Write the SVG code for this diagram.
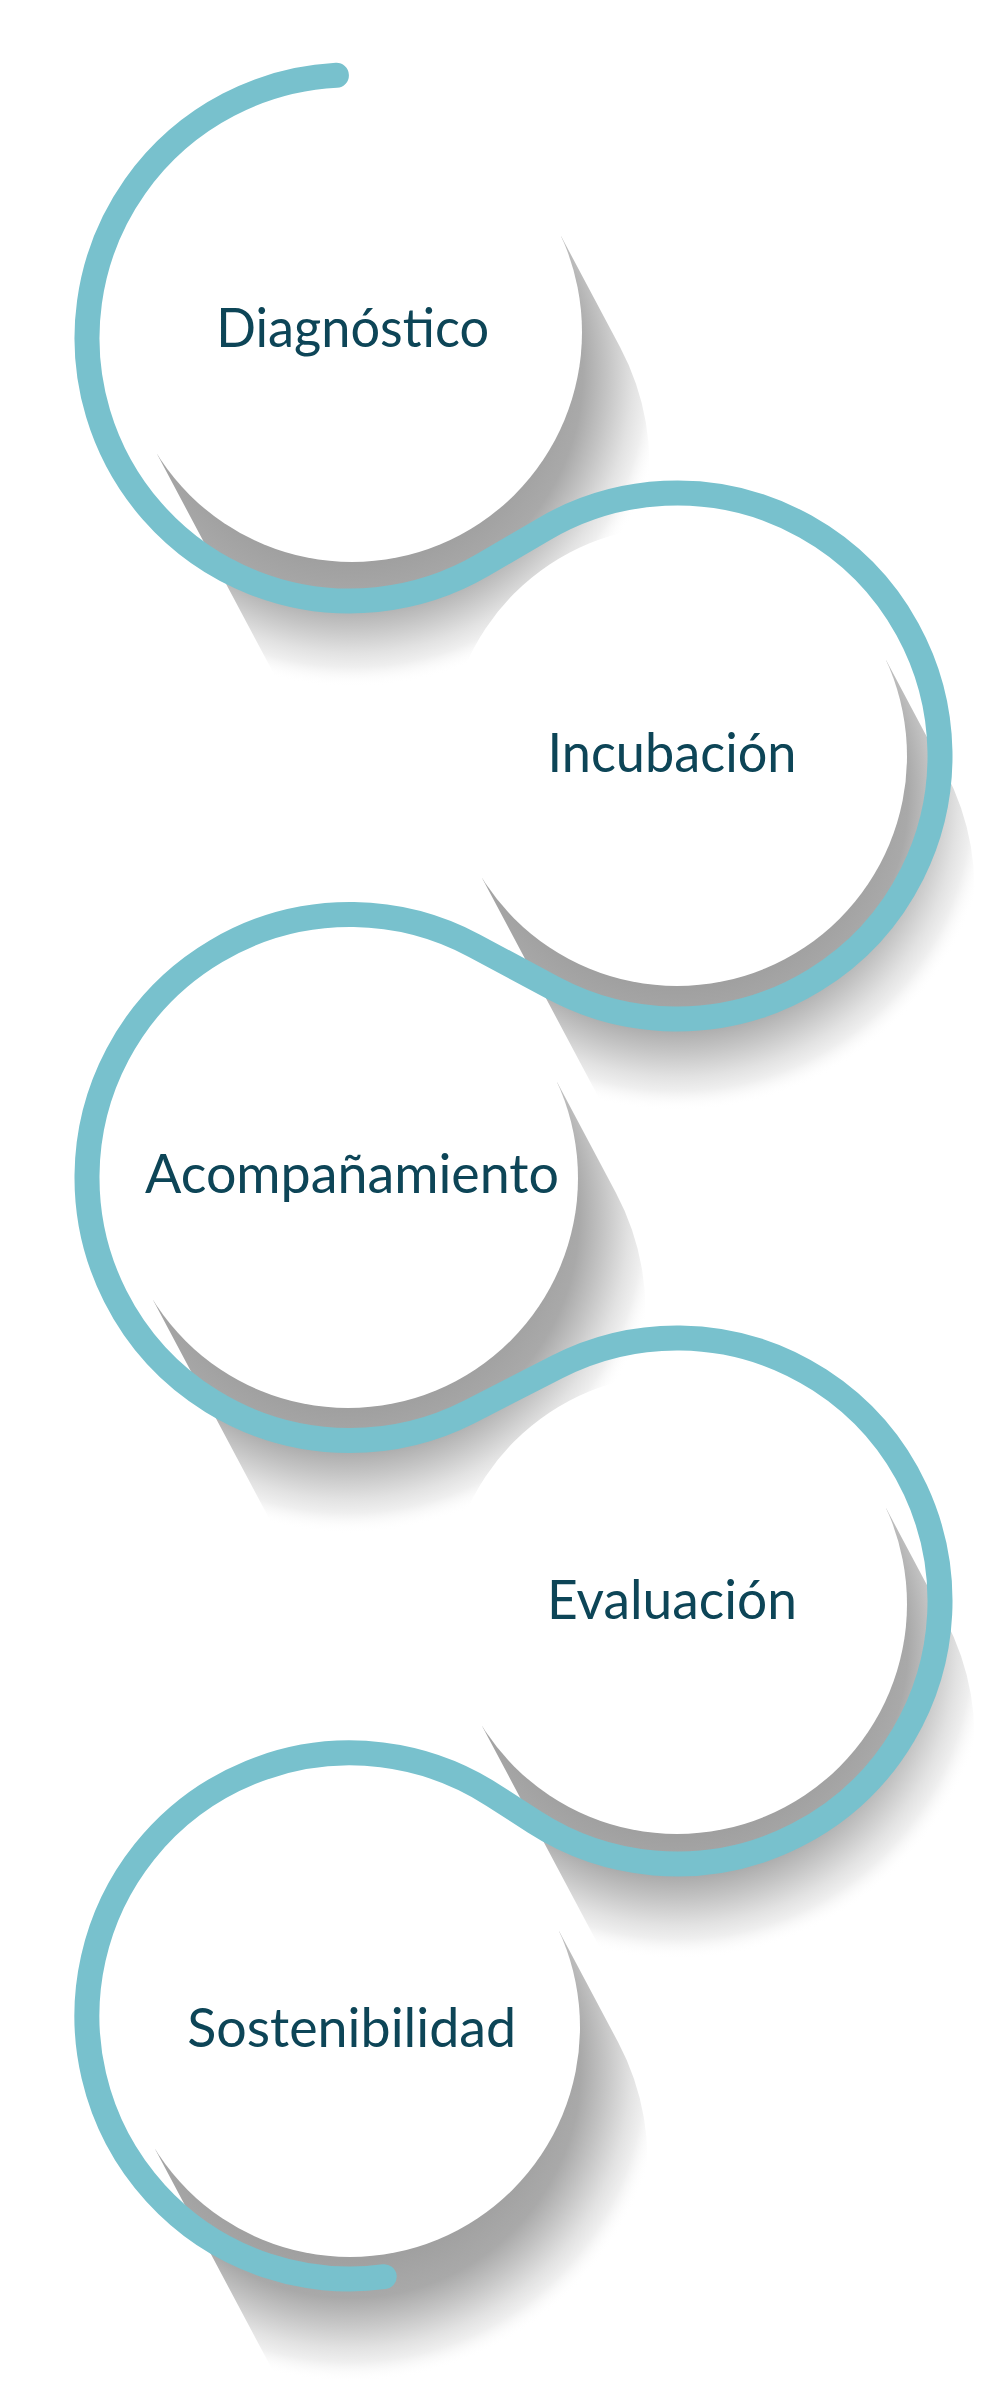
<svg xmlns="http://www.w3.org/2000/svg" xmlns:xlink="http://www.w3.org/1999/xlink" width="1000" height="2385" viewBox="0 0 1000 2385">
<defs>
<radialGradient id="shadowGrad" gradientUnits="userSpaceOnUse" cx="0" cy="40" r="315">
<stop offset="0" stop-color="#a0a0a0"/>
<stop offset="0.61" stop-color="#a0a0a0"/>
<stop offset="0.733" stop-color="#a9a9a9"/>
<stop offset="0.81" stop-color="#c4c4c4"/>
<stop offset="0.892" stop-color="#e2e2e2"/>
<stop offset="0.937" stop-color="#efefef"/>
<stop offset="1" stop-color="#ffffff" stop-opacity="0"/>
</radialGradient>
<path id="shadowShape" d="M 209.3 -95.4 L 268 15 A 250 250 0 0 1 -72.7 352 L -194.7 122.5 Z"/>
</defs>
<style>
.shadow{fill:url(#shadowGrad)}
.disc{fill:#ffffff}
.label{font-family:Lato,"Open Sans","Liberation Sans",sans-serif;font-size:54px;fill:#0d4557;text-anchor:middle}
.ring{fill:none;stroke:#78c1cd;stroke-width:25;stroke-linecap:round;stroke-linejoin:round}
</style>
<rect width="1000" height="2385" fill="#ffffff"/>
<g id="node-diagnostico" transform="translate(352 332)">
<use href="#shadowShape" xlink:href="#shadowShape" class="shadow"/>
<circle r="230" class="disc"/>
<text x="0.7" y="14.7" class="label" textLength="273" lengthAdjust="spacingAndGlyphs">Diagnóstico</text>
</g>
<g id="node-incubacion" transform="translate(677 756)">
<use href="#shadowShape" xlink:href="#shadowShape" class="shadow"/>
<circle r="230" class="disc"/>
<text x="-5" y="15.7" class="label" textLength="249" lengthAdjust="spacingAndGlyphs">Incubación</text>
</g>
<g id="node-acompanamiento" transform="translate(348 1178)">
<use href="#shadowShape" xlink:href="#shadowShape" class="shadow"/>
<circle r="230" class="disc"/>
<text x="4" y="14.7" class="label" textLength="414" lengthAdjust="spacingAndGlyphs">Acompañamiento</text>
</g>
<g id="node-evaluacion" transform="translate(677 1604)">
<use href="#shadowShape" xlink:href="#shadowShape" class="shadow"/>
<circle r="230" class="disc"/>
<text x="-5" y="15.3" class="label" textLength="250" lengthAdjust="spacingAndGlyphs">Evaluación</text>
</g>
<g id="node-sostenibilidad" transform="translate(350 2027)">
<use href="#shadowShape" xlink:href="#shadowShape" class="shadow"/>
<circle r="230" class="disc"/>
<text x="1.7" y="19.7" class="label" textLength="329" lengthAdjust="spacingAndGlyphs">Sostenibilidad</text>
</g>
<g id="connectors">
<path class="ring" d="M 336.4 75.35 A 263 263 0 1 0 483.09 564.84 L 543.91 529.16 A 263 263 0 1 1 552.72 987.78 L 474.28 945.72 A 263 263 0 1 0 469.89 1411.58 L 557.11 1366.92 A 263 263 0 1 1 534.47 1822.03 L 492.53 1794.97 A 263 263 0 1 0 384.2 2276.7"/>
</g>
</svg>
